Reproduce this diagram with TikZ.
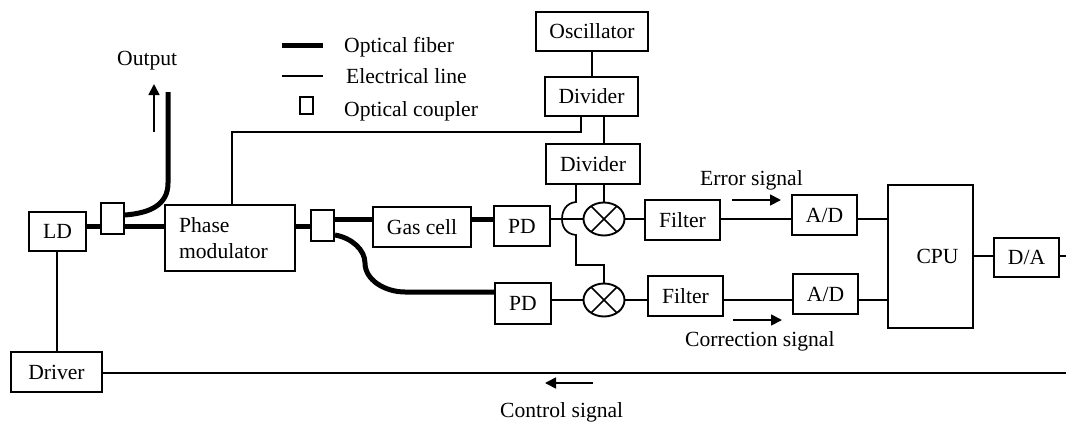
\documentclass[tikz,border=0pt]{standalone}
\usepackage{fontspec}
\setmainfont{Liberation Serif}
\usetikzlibrary{arrows.meta,shapes.geometric}
\tikzset{
  x=1pt,y=-1pt,
  blk/.style={draw=black,line width=2.4pt,fill=white,inner sep=0pt,outer sep=0pt,font=\fontsize{21.6}{26}\selectfont,align=left},
  cpl/.style={draw=black,line width=1.7pt,fill=white,inner sep=0pt,outer sep=0pt},
  elec/.style={line width=1.7pt,draw=black},
  fib/.style={line width=5pt,draw=black},
  lab/.style={inner sep=0pt,font=\fontsize{21.6}{26}\selectfont},
  sig/.style={line width=1.7pt,-{Triangle[length=11pt,width=11pt]}},
  mix/.style={draw=black,line width=1.9pt,fill=white,ellipse,inner sep=0pt,outer sep=0pt,minimum width=41pt,minimum height=33pt}
}
\newcommand{\bx}[7][blk]{%
  \pgfmathsetmacro{\cxx}{(#3+#5)/2}\pgfmathsetmacro{\cyy}{(#4+#6)/2}%
  \pgfmathsetmacro{\www}{#5-#3-2}\pgfmathsetmacro{\hhh}{#6-#4-2}%
  \node[#1,minimum width=\www pt,minimum height=\hhh pt] (#2) at (\cxx,\cyy) {#7};}
\begin{document}
\begin{tikzpicture}
\useasboundingbox (0,0) rectangle (1066,421);
% free ends
\coordinate (outTop) at (168,92);
\coordinate (rightEnd) at (1066,373);
\coordinate (daEnd) at (1066,256);
% fibres below the boxes
\coordinate (c1a) at (125,215);
\coordinate (c2a) at (335,235);
\coordinate (c2b) at (335,219);
\draw[fib] (c1a) .. controls (150,213) and (168,205) .. (168,183) -- (outTop);
\draw[fib] (87,226) -- (164,226);
\draw[fib] (296,226) -- (310,226);
\draw[fib] (c2b) -- (372,219);
\draw[fib] (472,219) -- (493,219);
\draw[fib] (c2a) .. controls (352,238) and (365,250) .. (365,263) .. controls (365,280) and (385,292) .. (405,292) -- (494,292);
% blocks
\bx{osc}{535}{11}{649}{52}{Oscillator}
\bx{div1}{544}{76}{639}{117}{Divider}
\bx{div2}{545}{143}{641}{185}{Divider}
\bx{ld}{28}{211}{87}{252}{LD}
\bx[cpl]{c1}{100}{202}{125}{235}{}
\bx{pm}{164}{204}{296}{272}{Phase\\modulator\hspace*{13pt}}
\bx[cpl]{c2}{310}{209}{335}{242}{}
\bx{gas}{372}{206}{472}{248}{Gas cell}
\bx{pd1}{493}{205}{551}{247}{PD}
\bx{pd2}{494}{282}{552}{325}{PD}
\node[mix] (m1) at (604,219) {};
\node[mix] (m2) at (604,300) {};
\bx{f1}{644}{199}{721}{241}{Filter}
\bx{f2}{647}{275}{724}{317}{Filter}
\bx{ad1}{791}{194}{858}{236}{A/D}
\bx{ad2}{792}{273}{859}{315}{A/D}
\bx{cpu}{887}{184}{974}{329}{\hspace*{14pt}CPU}
\bx{da}{993}{237}{1060}{278}{D/A}
\bx{drv}{10}{351}{103}{393}{Driver}
% electrical lines
\draw[elec] (m1.135) -- (m1.-45) (m1.45) -- (m1.-135);
\draw[elec] (m2.135) -- (m2.-45) (m2.45) -- (m2.-135);
\draw[elec] (osc.south -| 592,0) -- (div1.north -| 592,0);
\draw[elec] (div1.south -| m1.north) -- (div2.north -| m1.north);
\draw[elec] (div2.south -| m1.north) -- (m1.north);
\draw[elec] (pm.north -| 232,0) |- (581,132) -- (div1.south -| 581,0);
\draw[elec] (pd1.east |- m1.west) -- (m1.west);
\draw[elec] (m1.east) -- (f1.west |- m1.east);
\draw[elec] (f1.east |- m1.east) -- (ad1.west |- m1.east);
\draw[elec] (ad1.east |- m1.east) -- (cpu.west |- m1.east);
\draw[elec] (pd2.east |- m2.west) -- (m2.west);
\draw[elec] (m2.east) -- (f2.west |- m2.east);
\draw[elec] (f2.east |- m2.east) -- (ad2.west |- m2.east);
\draw[elec] (ad2.east |- m2.east) -- (cpu.west |- m2.east);
\draw[elec] (cpu.east |- daEnd) -- (da.west |- daEnd);
\draw[elec] (da.east |- daEnd) -- (daEnd);
\draw[elec] (ld.south -| 57,0) -- (drv.north -| 57,0);
\draw[elec] (drv.east |- rightEnd) -- (rightEnd);
\draw[elec] (div2.south -| 576,0) -- (576,202) .. controls (566,203) and (562,211) .. (562,219) .. controls (562,227) and (566,234) .. (576,235) -- (576,265) -- (604,265) -- (m2.north);
% signal arrows
\coordinate (a1s) at (154,132); \coordinate (a1e) at (154,84);
\draw[sig] (a1s) -- (a1e);
\coordinate (a2s) at (732,200); \coordinate (a2e) at (781,200);
\draw[sig] (a2s) -- (a2e);
\coordinate (a3s) at (733,320); \coordinate (a3e) at (782,320);
\draw[sig] (a3s) -- (a3e);
\coordinate (a4s) at (593,383); \coordinate (a4e) at (545,383);
\draw[sig] (a4s) -- (a4e);
% texts
\node[lab,anchor=base west] (tout) at (117,65) {Output};
\node[lab,anchor=base west] (terr) at (700,185) {Error signal};
\node[lab,anchor=base west] (tcor) at (685,346) {Correction signal};
\node[lab,anchor=base west] (tctl) at (500,417) {Control signal};
% legend
\coordinate (l1a) at (282,45); \coordinate (l1b) at (323,45);
\coordinate (l2a) at (282,76); \coordinate (l2b) at (323,76);
\draw[fib] (l1a) -- (l1b);
\draw[elec] (l2a) -- (l2b);
\bx[cpl]{lc}{299}{96}{314}{115}{}
\node[lab,anchor=base west] (t1) at (344,52) {Optical fiber};
\node[lab,anchor=base west] (t2) at (346,83) {Electrical line};
\node[lab,anchor=base west] (t3) at (344,116) {Optical coupler};
\end{tikzpicture}
\end{document}
